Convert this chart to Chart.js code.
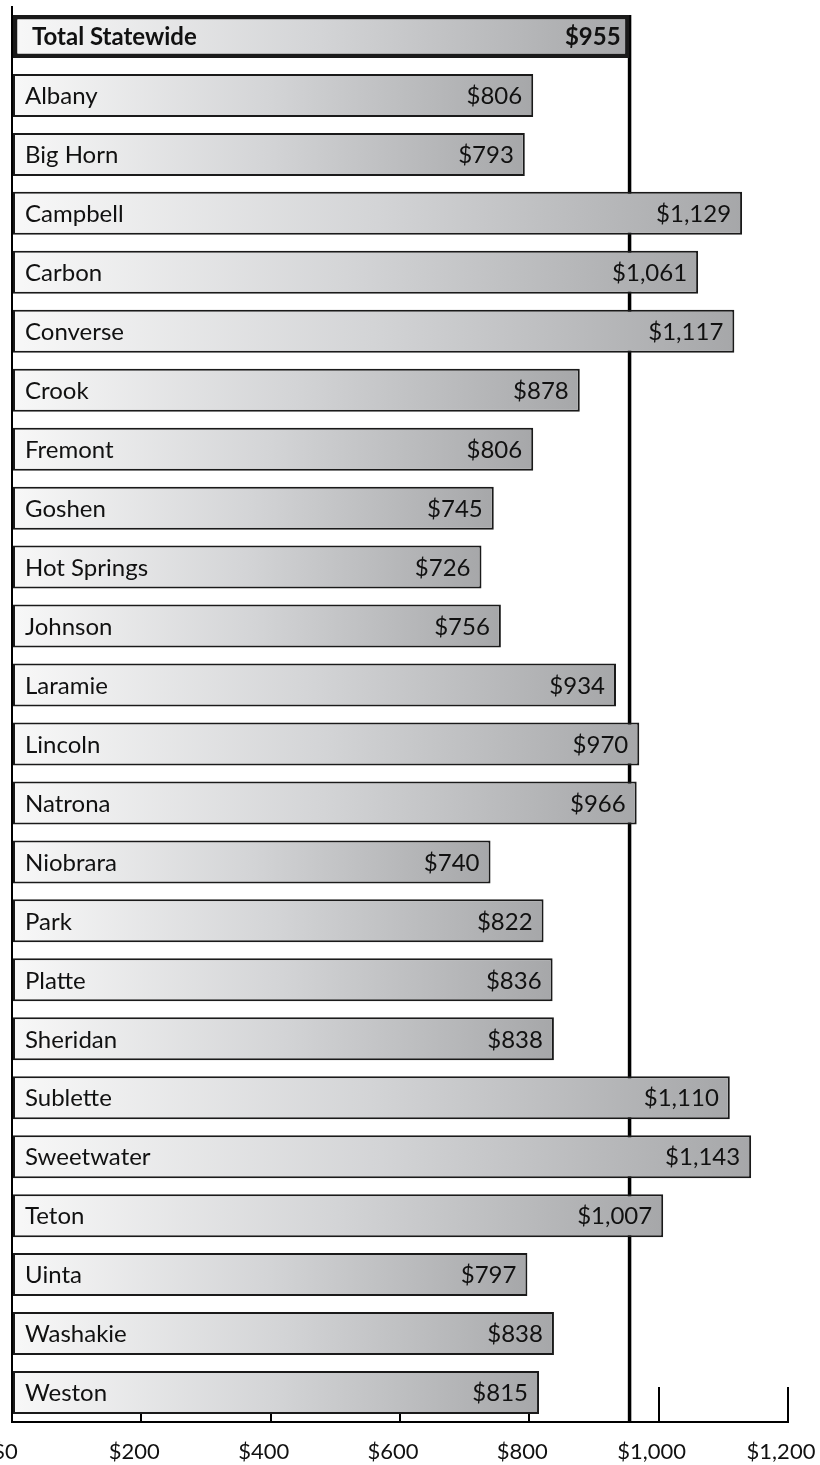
<script src="https://cdn.jsdelivr.net/npm/chart.js@4.4.7/dist/chart.umd.min.js"></script>

<style>
  body {
    margin: 0;
    background: #ffffff;
  }
  #chart {
    display: block;
  }
</style>

<canvas id="chart" width="820" height="1465"></canvas>

<script>
  const counties = [
    'Total Statewide', 'Albany', 'Big Horn', 'Campbell', 'Carbon', 'Converse', 'Crook', 'Fremont',
    'Goshen', 'Hot Springs', 'Johnson', 'Laramie', 'Lincoln', 'Natrona', 'Niobrara', 'Park',
    'Platte', 'Sheridan', 'Sublette', 'Sweetwater', 'Teton', 'Uinta', 'Washakie', 'Weston'
  ]
  const amounts = [
    955, 806, 793, 1129, 1061, 1117, 878, 806,
    745, 726, 756, 934, 970, 966, 740, 822,
    836, 838, 1110, 1143, 1007, 797, 838, 815
  ]
  const axisTicks = [0, 200, 400, 600, 800, 1000, 1200]

  Chart.defaults.font.family = 'Lato, "Liberation Sans", sans-serif'
  Chart.defaults.color = '#111111'

  const money = (v) => '$' + Number(v).toLocaleString('en-US')

  /*
   * Gradient per bar, light at the base, darker at the end
   */
  function barFill(context) {
    const chart = context.chart
    const area = chart.chartArea
    if (!area || context.type !== 'data') {
      return '#cfd0d2'
    }
    const x0 = chart.scales.x.getPixelForValue(0)
    const x1 = chart.scales.x.getPixelForValue(context.raw)
    const g = chart.ctx.createLinearGradient(x0, 0, x1, 0)
    g.addColorStop(0, '#f8f8f8')
    g.addColorStop(0.5, '#d3d4d6')
    g.addColorStop(1, '#a6a7a9')
    return g
  }

  // vertical line at the statewide value, behind the bars
  const statewideLine = {
    id: 'statewideLine',
    beforeDatasetsDraw(chart) {
      const { ctx, chartArea, scales } = chart
      const x = scales.x.getPixelForValue(amounts[0])
      ctx.save()
      ctx.strokeStyle = '#000000'
      ctx.lineWidth = 3.5
      ctx.beginPath()
      ctx.moveTo(x, chartArea.top + 8)
      ctx.lineTo(x, chartArea.bottom)
      ctx.stroke()
      ctx.restore()
    }
  }

  // county name on the left of each bar, amount at its end
  const barLabels = {
    id: 'barLabels',
    afterDatasetsDraw(chart) {
      const { ctx } = chart
      const meta = chart.getDatasetMeta(0)
      ctx.save()
      ctx.fillStyle = '#111111'
      ctx.textBaseline = 'middle'
      meta.data.forEach((bar, i) => {
        const total = i === 0
        ctx.font = (total ? 'bold ' : '') + '24px Lato'
        ctx.textAlign = 'left'
        ctx.fillText(counties[i], bar.base + (total ? 19 : 12), bar.y + 1)
        ctx.textAlign = 'right'
        ctx.fillText(money(amounts[i]), bar.x - (total ? 9 : 11), bar.y + 1)
      })
      ctx.restore()
    }
  }

  const data = {
    labels: counties,
    datasets: [{
      data: amounts,
      backgroundColor: barFill,
      borderColor: '#1a1a1a',
      borderWidth: (c) => (c.dataIndex === 0 ? 4.5 : 2),
      borderSkipped: false,
      barPercentage: 0.73,
      categoryPercentage: 1
    }]
  }

  const config = {
    type: 'bar',
    data: data,
    options: {
      indexAxis: 'y',
      responsive: false,
      animation: false,
      layout: {
        padding: { left: 12, right: 32, top: 7, bottom: 0 }
      },
      plugins: {
        legend: { display: false },
        tooltip: { enabled: false }
      },
      scales: {
        x: {
          min: 0,
          max: 1200,
          afterBuildTicks: (scale) => {
            scale.ticks = axisTicks.map((v) => ({ value: v }))
          },
          afterFit: (scale) => {
            scale.height = 43
            scale.paddingLeft = 0
            scale.paddingRight = 0
          },
          grid: {
            drawOnChartArea: false,
            drawTicks: true,
            tickLength: -35,
            color: '#000000',
            lineWidth: 2
          },
          border: { color: '#000000', width: 2 },
          ticks: {
            padding: 52,
            labelOffset: -7,
            maxRotation: 0,
            autoSkip: false,
            font: { size: 22 },
            callback: (v) => money(v)
          }
        },
        y: {
          grid: { display: false, drawTicks: false },
          border: { color: '#000000', width: 2 },
          ticks: { display: false }
        }
      }
    },
    plugins: [statewideLine, barLabels]
  }

  const myChart = new Chart(document.getElementById('chart'), config)
</script>
